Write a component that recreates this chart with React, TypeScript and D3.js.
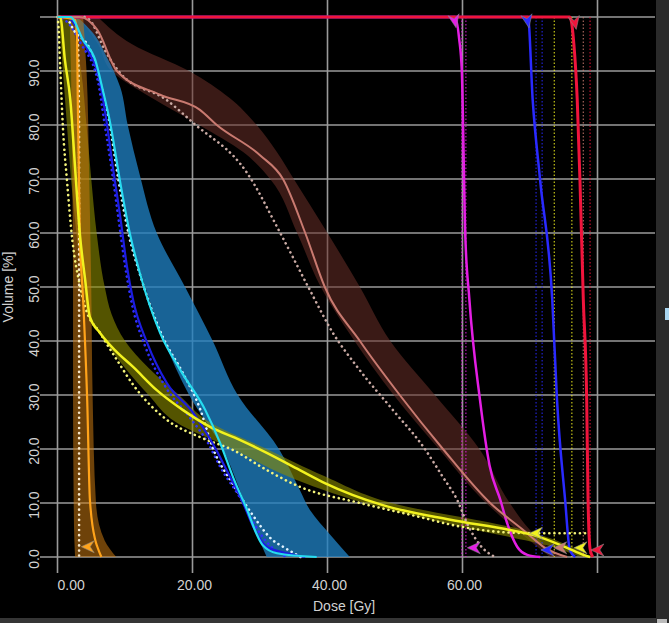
import { useEffect, useRef } from 'react';
import * as d3 from 'd3';

// dose ticks / volume ticks
const DOSE_TICKS = [0, 20, 40, 60, 80];
const DOSE_LABELS = ['0.00', '20.00', '40.00', '60.00'];
const VOL_TICKS = [0, 10, 20, 30, 40, 50, 60, 70, 80, 90, 100];
const VOL_LABELS = ['0.0', '10.0', '20.0', '30.0', '40.0', '50.0', '60.0', '70.0', '80.0', '90.0'];

// curves: [dose Gy, volume %]
const redLine = [[0, 100], [75.9, 100], [76.5, 95], [77.0, 84.6], [77.4, 69.8], [77.9, 47.6], [78.4, 29.1], [78.6, 10.6], [78.9, 1.5], [79.3, 0]];
const magentaLine = [[0, 100], [58.9, 100], [59.5, 96], [59.9, 90], [60.4, 60], [61.0, 48], [62.6, 29], [64.0, 17], [65.6, 10.6], [66.6, 6.3], [68.1, 1.9], [69.6, 0.4], [71.5, 0]];
const blueHighLine = [[0, 100], [69.7, 100], [70.4, 84.6], [71.5, 69.8], [73.3, 47.6], [74.0, 29.1], [75.2, 10.6], [75.9, 1.3], [76.7, 0]];
const brownLine = [[0, 100], [3.3, 100], [5.9, 97.6], [8.8, 90], [15.2, 85.6], [21.1, 82.8], [23.6, 80], [30.0, 74.4], [33.4, 70], [36.7, 60], [39.6, 50], [44.8, 40], [50.7, 30], [57.1, 20], [64.1, 10], [69.0, 5], [72.2, 1.7], [75.5, 0]];
const brownDotted = [[4.0, 100], [4.8, 99.4], [7.0, 93.9], [9.3, 89.6], [16.2, 84.6], [20.1, 80.4], [28.1, 71.1], [33.0, 60], [37.4, 49.4], [40.8, 41.5], [44.4, 35.2], [49.7, 27.2], [54.2, 20.4], [57.1, 14.8], [59.2, 10.6], [60.8, 5.9], [62.6, 2.2], [64.8, 0]];
const blueMidLine = [[0, 100], [1.4, 100], [2.6, 98.5], [4.1, 94.8], [6.3, 87.8], [7.3, 80.4], [8.2, 72.2], [9.3, 63], [10.3, 53.7], [11.2, 47.6], [13.3, 39.6], [16.2, 32.2], [20.1, 26.7], [23.0, 21], [25.5, 15], [27.5, 10], [29.0, 5.6], [31.0, 1.9], [34.0, 0.7], [36.7, 0]];
const blueMidDotted = [[0, 100], [1.5, 99], [3.5, 95], [6.0, 88], [7.0, 80], [8.0, 72], [9.0, 63], [10.0, 54], [11.0, 47], [13.0, 39], [16.0, 31.5], [19.5, 26], [22.3, 21.1], [24.1, 16.7], [27.0, 11.1], [30.0, 4.4], [32.0, 1.5], [34.0, 0]];
const cyanLine = [[0, 100], [1.9, 100], [3.8, 95.7], [5.6, 92], [6.7, 86.5], [7.8, 80.4], [9.3, 69.3], [10.7, 60], [12.2, 52.6], [15.2, 41.5], [18.2, 34.6], [21.9, 27.2], [24.1, 21.1], [26.0, 14.8], [28.1, 8.7], [29.7, 3.7], [30.4, 2.2], [32.5, 0.7], [38.4, 0]];
const cyanDotted = [[1.8, 99], [2.4, 97.6], [4.8, 94], [6.3, 88], [7.6, 81], [9.0, 70], [10.5, 60], [12.3, 52], [15.5, 41], [18.6, 34], [21.1, 27.5], [23.0, 20.2], [26.0, 13.5], [28.9, 7.8], [31.9, 3.1], [33.4, 1.9], [36.0, 0]];
const yellowLine = [[0, 100], [0.4, 100], [1.1, 92], [1.9, 84.6], [2.6, 72.2], [3.3, 60], [4.1, 51.3], [4.8, 44.4], [6.3, 41.5], [8.5, 38.3], [11.2, 35.2], [14.7, 30.9], [18.6, 27.2], [22.6, 24.1], [27.0, 21.7], [31.0, 19.3], [35.9, 16.1], [39.6, 13.7], [48.2, 9.6], [58.2, 6.9], [67.0, 5.0], [70.4, 4.1], [75.5, 1.7], [77.9, 0.4], [78.9, 0]];
const yellowDotted = [[0, 100], [0.1, 99], [0.4, 90.7], [0.8, 79.6], [1.4, 69.8], [2.2, 58.7], [3.3, 50.4], [4.1, 46.3], [6.3, 41.5], [8.8, 36.5], [11.2, 31.9], [16.2, 25.4], [21.1, 22.2], [26.0, 19.8], [31.0, 16.1], [35.9, 13.0], [44.8, 10.0], [53.7, 7.4], [58.6, 5.9], [66.0, 4.6], [71.0, 4.4], [78.9, 4.4]];
const orangeLine = [[0, 100], [2.6, 99.5], [2.9, 96], [3.0, 85], [3.3, 60], [3.8, 47.6], [4.4, 29], [4.8, 10.6], [5.6, 3.1], [5.9, 1.9], [6.5, 0]];
const orangeDotted = [[2.5, 99.4], [3.0, 96], [3.2, 80], [3.2, 0]];

// bands: [volume %, low dose, high dose]
const brownBand = [[100, 3.0, 6.0], [95, 6.0, 11.0], [90, 8.0, 19.5], [85, 14.0, 25.5], [80, 21.0, 29.5], [75, 27.5, 32.5], [70, 31.5, 35.0], [60, 35.5, 40.0], [50, 39.0, 44.8], [40, 44.0, 49.3], [30, 49.8, 55.9], [20, 56.5, 62.5], [10, 63.5, 67.0], [5, 68.0, 70.0], [2, 71.0, 72.5], [0, 73.0, 75.0]];
const blueBand = [[100, 1.8, 2.9], [97, 3.0, 5.3], [92.6, 5.3, 7.3], [87, 6.6, 9.3], [80, 7.8, 10.4], [70.7, 9.0, 12.2], [60, 10.7, 14.7], [50, 13.0, 18.9], [40, 15.8, 23.0], [30, 19.5, 26.7], [20, 24.5, 32.8], [12.4, 27.0, 35.9], [8.7, 28.1, 37.4], [4, 29.6, 40.5], [0, 31.0, 43.3]];
const yellowBand = [[100, 0.2, 2.0], [90, 0.8, 3.5], [80, 1.4, 4.3], [70, 2.0, 5.0], [60, 2.8, 5.8], [50, 3.8, 7.0], [45, 4.5, 8.0], [40, 7.0, 10.0], [35, 10.0, 13.5], [30, 13.5, 18.0], [25, 17.5, 22.5], [20, 26.0, 31.0], [15, 34.0, 39.5], [10, 45.5, 49.5], [5, 62.0, 69.0], [2, 73.0, 76.0], [0, 77.5, 79.0]];
const orangeBand = [[100, 1.8, 3.8], [90, 2.0, 4.3], [70, 2.2, 4.7], [50, 2.3, 5.0], [30, 2.3, 5.2], [10, 2.4, 5.7], [3, 2.5, 7.0], [0, 2.6, 8.7]];

// constraint lines: [series, dose]
const doseLimits = [['magenta', 59.9], ['magenta', 60.5], ['blueHigh', 70.9], ['blueHigh', 71.8], ['yellow', 73.6], ['yellow', 76.2], ['brown', 77.9], ['red', 78.9]];

// markers: [series, dose, volume, top?]
const markers = [
  ['magenta', 58.9, 99.3, 1], ['blueHigh', 69.7, 99.3, 1], ['red', 76.7, 99.0, 1],
  ['orange', 4.4, 1.9, 0], ['magenta', 61.6, 1.7, 0], ['yellow', 70.8, 4.4, 0], ['blueHigh', 72.5, 1.3, 0],
  ['brown', 74.4, 1.7, 0], ['yellow', 77.4, 1.7, 0], ['red', 79.9, 1.3, 0],
];

const COLORS = {
  red: '#f0143c', magenta: '#e41ee4', blueHigh: '#2a2aff', brown: '#c97a70',
  blueMid: '#1c1ce0', cyan: '#26dcf0', yellow: '#f2f21e', orange: '#ffa31a',
};

const App = () => {
  const svgRef = useRef();

  useEffect(() => {
    const svg = d3.select(svgRef.current);
    svg.selectAll('*').remove();

    const x = d3.scaleLinear().domain([0, 80]).range([57.5, 597.5]);
    const y = d3.scaleLinear().domain([0, 100]).range([557, 17]);

    svg.append('rect').attr('width', 669).attr('height', 623).attr('fill', '#000');
    // window chrome on right/bottom
    svg.append('rect').attr('x', 656).attr('y', 0).attr('width', 13).attr('height', 623).attr('fill', '#2a2a2a');
    svg.append('rect').attr('x', 665).attr('y', 308).attr('width', 4).attr('height', 12).attr('fill', '#a9d6f0');
    svg.append('rect').attr('x', 0).attr('y', 618).attr('width', 656).attr('height', 5).attr('fill', '#353535');
    svg.append('rect').attr('x', 657).attr('y', 619).attr('width', 10).attr('height', 4).attr('fill', '#bbb');

    // grid
    svg.selectAll('.hgrid')
      .data(VOL_TICKS)
      .enter().append('line')
      .attr('x1', 40).attr('x2', 655)
      .attr('y1', d => y(d)).attr('y2', d => y(d))
      .attr('stroke', '#9a9a9a').attr('stroke-width', 1.6);

    svg.selectAll('.vgrid')
      .data(DOSE_TICKS)
      .enter().append('line')
      .attr('x1', d => x(d)).attr('x2', d => x(d))
      .attr('y1', 0).attr('y2', 573)
      .attr('stroke', '#9a9a9a').attr('stroke-width', 1.6);

    // bands
    const band = d3.area()
      .y(d => y(d[0]))
      .x0(d => x(d[1]))
      .x1(d => x(d[2]))
      .curve(d3.curveMonotoneY);

    const bands = [
      [brownBand, '#6a3028', 0.55],
      [blueBand, '#1f7fc0', 0.78],
      [yellowBand, '#8c8c00', 0.6],
      [orangeBand, '#c87810', 0.55],
    ];
    bands.forEach(([data, fill, op]) => {
      svg.append('path')
        .attr('d', band(data))
        .attr('fill', fill)
        .attr('fill-opacity', op);
    });

    // dose limit dotted verticals
    svg.selectAll('.limit')
      .data(doseLimits)
      .enter().append('line')
      .attr('x1', d => x(d[1])).attr('x2', d => x(d[1]))
      .attr('y1', y(100)).attr('y2', y(0))
      .attr('stroke', d => COLORS[d[0]])
      .attr('stroke-width', 1.3)
      .attr('stroke-dasharray', '1.5 2')
      .attr('opacity', 0.75);

    const line = d3.line()
      .x(d => x(d[0]))
      .y(d => y(d[1]))
      .curve(d3.curveMonotoneX);

    const drawSolid = ([data, c, w]) => {
      svg.append('path').attr('d', line(data)).attr('fill', 'none')
        .attr('stroke', c).attr('stroke-width', w)
        .attr('stroke-linejoin', 'round');
    };

    // targets first, red over them along the 100% line
    [[magentaLine, COLORS.magenta, 2.5],
      [blueHighLine, COLORS.blueHigh, 2.5],
      [redLine, COLORS.red, 3]].forEach(drawSolid);

    const dotted = [
      [brownDotted, '#c9aaa4'],
      [blueMidDotted, '#3030ff'],
      [cyanDotted, '#dff2ff'],
      [yellowDotted, '#f4f47a'],
      [orangeDotted, '#f6e6c8'],
    ];
    dotted.forEach(([data, c]) => {
      svg.append('path').attr('d', line(data)).attr('fill', 'none')
        .attr('stroke', c).attr('stroke-width', 2.6)
        .attr('stroke-linecap', 'round')
        .attr('stroke-dasharray', '0.1 5');
    });

    [[brownLine, COLORS.brown, 2],
      [blueMidLine, COLORS.blueMid, 2.2],
      [orangeLine, COLORS.orange, 2.2],
      [yellowLine, COLORS.yellow, 2.5],
      [cyanLine, COLORS.cyan, 2.2]].forEach(drawSolid);

    // markers
    svg.selectAll('.marker')
      .data(markers)
      .enter().append('path')
      .attr('transform', d => `translate(${x(d[1])},${y(d[2])})`)
      .attr('d', d => d[3] ? 'M1,7 L-7,-5 L-1,-2 L4,-7 Z' : 'M-6,0 L7,-6 L3,0 L7,6 Z')
      .attr('fill', d => COLORS[d[0]])
      .attr('stroke', '#8a8a8a')
      .attr('stroke-width', 0.8)
      .attr('stroke-opacity', 0.7);

    // axis labels
    const font = '"Liberation Sans", Arial, sans-serif';
    svg.selectAll('.xlab')
      .data(DOSE_LABELS)
      .enter().append('text')
      .attr('x', (d, i) => i === 0 ? x(DOSE_TICKS[i]) : x(DOSE_TICKS[i]) + 2)
      .attr('y', 590)
      .attr('text-anchor', (d, i) => i === 0 ? 'start' : 'middle')
      .attr('font-family', font).attr('font-size', 14)
      .attr('fill', '#d2d2d2')
      .text(d => d);

    svg.selectAll('.ylab')
      .data(VOL_LABELS)
      .enter().append('text')
      .attr('transform', (d, i) => `translate(39,${y(VOL_TICKS[i]) + 2}) rotate(-90)`)
      .attr('text-anchor', 'middle')
      .attr('font-family', font).attr('font-size', 14)
      .attr('fill', '#d2d2d2')
      .text(d => d);

    svg.append('text')
      .attr('x', 313).attr('y', 611)
      .attr('font-family', font).attr('font-size', 14)
      .attr('fill', '#d2d2d2')
      .text('Dose [Gy]');

    svg.append('text')
      .attr('transform', `translate(13,${y(50)}) rotate(-90)`)
      .attr('text-anchor', 'middle')
      .attr('font-family', font).attr('font-size', 14)
      .attr('fill', '#d2d2d2')
      .text('Volume [%]');
  }, []);

  return (
    <div>
      <svg ref={svgRef} width={669} height={623} style={{ position: 'absolute', left: 0, top: 0 }} />
    </div>
  );
};

export default App;
